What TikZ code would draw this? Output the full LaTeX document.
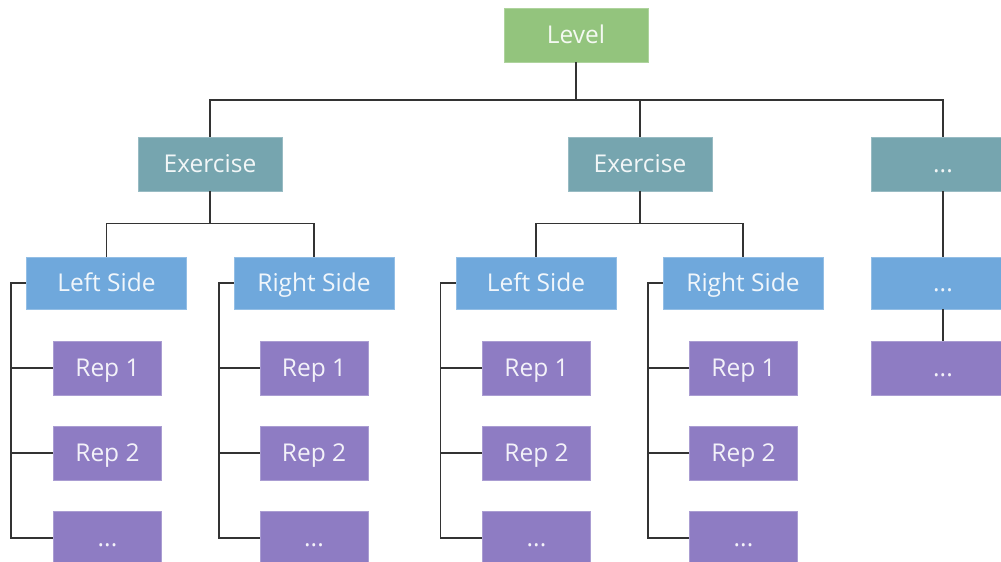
\documentclass[tikz,border=0pt]{standalone}
\usepackage{fontspec}
\setmainfont{Open Sans}
\begin{document}
\begin{tikzpicture}[x=1pt,y=-1pt,
  box/.style={rectangle, inner sep=0pt, text=white, text opacity=0.9,
    font=\fontsize{24.5}{28}\selectfont, text height=17.5pt, text depth=0pt,
    line width=0.8pt},
  lvlbox/.style={box, fill=lvlc, draw=lvlc!75!white, minimum width=144pt, minimum height=54pt},
  exbox/.style={box, fill=exc, draw=exc!75!white, minimum width=144pt, minimum height=54pt},
  sidebox/.style={box, fill=sidec, draw=sidec!75!white, minimum width=160pt, minimum height=52pt},
  repbox/.style={box, fill=repc, draw=repc!75!white, minimum width=108pt, minimum height=54pt},
  link/.style={draw=linec, line width=1.4pt}]
\definecolor{lvlc}{HTML}{93C47D}
\definecolor{exc}{HTML}{76A5AF}
\definecolor{sidec}{HTML}{6FA8DC}
\definecolor{repc}{HTML}{8E7CC3}
\definecolor{linec}{HTML}{333333}
\useasboundingbox (0,0) rectangle (1001,562);
\clip (0,0) rectangle (1001,562);

% top level
\node[lvlbox] (lvl) at (576,35) {Level};
\coordinate (bus) at (576,100);

% exercises
\node[exbox] (ex1) at (210,164) {Exercise};
\node[exbox] (ex2) at (640,164) {Exercise};
\node[exbox] (ex3) at (943,164) {...};

% sides
\node[sidebox] (ls1) at (106.5,283) {Left Side};
\node[sidebox] (rs1) at (314,283) {Right Side};
\node[sidebox] (ls2) at (536,283) {Left Side};
\node[sidebox] (rs2) at (743,283) {Right Side};
\node[sidebox, minimum width=144pt] (s3) at (943,283) {...};

% repetitions
\foreach \g/\x in {a/107.5, b/314, c/536.5, d/743.5}{
  \node[repbox] (\g1) at (\x,368) {Rep 1};
  \node[repbox] (\g2) at (\x,453) {Rep 2};
  \node[repbox] (\g3) at (\x,538) {...};
}
\node[repbox, minimum width=144pt] (r3) at (943,368) {...};

% level to exercises
\draw[link] (lvl.south) -- (bus);
\draw[link] (ex1.north) |- (bus) -| (ex3.north);
\draw[link] (bus) -| (ex2.north);

% exercises to sides
\draw[link] (ex1.south) -- ++(0,32) coordinate (j1) -| (ls1.north);
\draw[link] (j1) -| (rs1.north);
\draw[link] (ex2.south) -- ++(0,32) coordinate (j2) -| (ls2.north);
\draw[link] (j2) -| (rs2.north);
\draw[link] (ex3.south) -- (s3.north);
\draw[link] (s3.south) -- (r3.north);

% sides to repetitions
\foreach \s/\g/\d in {ls1/a/-15, rs1/b/-14.5, ls2/c/-15, rs2/d/-14.5}{
  \draw[link] (\s.west) -- ++(\d,0) coordinate (sp\g) |- (\g3.west);
  \draw[link] (\g1.west) -- (\g1.west -| sp\g);
  \draw[link] (\g2.west) -- (\g2.west -| sp\g);
}
\end{tikzpicture}
\end{document}
